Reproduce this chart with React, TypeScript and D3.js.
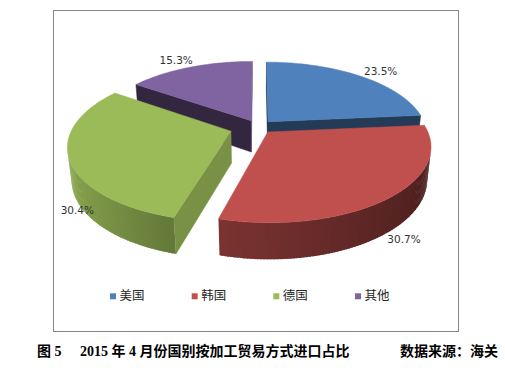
import React from 'react';
import * as d3 from 'd3';

// ---- data ----
const categories = ['美国', '韩国', '德国', '其他'];
const shares = [23.5, 30.7, 30.4, 15.3];
const valueLabels = ['23.5%', '30.7%', '30.4%', '15.3%'];
const captionLeft = '图 5';
const captionTitle = '2015 年 4 月份国别按加工贸易方式进口占比';
const captionSource = '数据来源：海关';

// ---- styles ----
const colors = ['#4F81BD', '#C0504D', '#9BBB59', '#8064A2'];
const explode = [0.095, 0.095, 0.18, 0.095];
const labelPlace: [number, number][] = [[1.37, -0.05], [1.22, -0.2], [1.17, -0.37], [1.37, -0.04]];

const W = 505, H = 368;
const S = 158, D = 4.9, sinP = 0.456, cosP = Math.sqrt(1 - sinP * sinP);
const CX = 258, CY = 126.7, DEPTH = 0.23;
const cam = [0, D * sinP, D * cosP];

function project(x: number, y: number, z: number): [number, number] {
  const t = D - (y * sinP + z * cosP);
  const k = (S * D) / t;
  return [CX + k * x, CY - k * (y * cosP - z * sinP)];
}

const outerShade = d3.scaleLinear().domain([-1, -0.26, 1]).range([0.9, 0.64, 0.39]).clamp(true);
const radialShade = d3.scaleLinear().domain([-0.57, 0.09, 0.97]).range([0.39, 0.46, 0.78]).clamp(true);

function shade(c: string, f: number) {
  const r = d3.rgb(c);
  return d3.rgb(r.r * f, r.g * f, r.b * f).formatHex();
}

const line = d3.line<[number, number]>().x(d => d[0]).y(d => d[1]);
const poly = (pts: [number, number][]) => line(pts) + 'Z';

type Face = { d: string; fill: string; stroke?: boolean };

export default function App() {
  const arcs = d3.pie<number>().sort(null).value(d => d)(shares);

  const slices = arcs.map((a, i) => {
    const b = (a.startAngle + a.endAngle) / 2;
    const ox = explode[i] * Math.sin(b);
    const oz = -explode[i] * Math.cos(b);
    const pt = (th: number, y: number) => project(ox + Math.sin(th), y, oz - Math.cos(th));
    const apexT = project(ox, 0, oz);
    const apexB = project(ox, -DEPTH, oz);
    const n = Math.max(2, Math.ceil((a.endAngle - a.startAngle) / (Math.PI / 180)));
    const step = (a.endAngle - a.startAngle) / n;
    const ths = d3.range(n + 1).map(k => a.startAngle + step * k);
    const faces: Face[] = [];
    // outer curved side (each strip overlaps the next a little to hide seams)
    for (let k = 0; k < n; k++) {
      const t0 = ths[k], t1 = ths[k + 1], tm = (t0 + t1) / 2;
      const nx = Math.sin(tm), nz = -Math.cos(tm);
      const px = ox + nx, pz = oz + nz;
      const dot = nx * (cam[0] - px) + nz * (cam[2] - pz);
      if (dot > 0) {
        const te = k < n - 1 ? t1 + step * 0.6 : t1;
        faces.push({
          d: poly([pt(t0, 0), pt(te, 0), pt(te, -DEPTH), pt(t0, -DEPTH)]),
          fill: shade(colors[i], outerShade(nx)),
        });
      }
    }
    // radial faces
    const a0 = a.startAngle, a1 = a.endAngle;
    const radials: [number, number, number][] = [
      [a0, -Math.cos(a0), -Math.sin(a0)],
      [a1, Math.cos(a1), Math.sin(a1)],
    ];
    radials.forEach(([th, nx, nz]) => {
      const dot = nx * (cam[0] - ox) + nz * (cam[2] - oz);
      if (dot > 0) {
        faces.push({
          d: poly([apexT, pt(th, 0), pt(th, -DEPTH), apexB]),
          fill: shade(colors[i], radialShade(nx)),
          stroke: true,
        });
      }
    });
    // top face
    faces.push({ d: poly([apexT, ...ths.map(th => pt(th, 0))]), fill: colors[i], stroke: true });

    const [lr, ly] = labelPlace[i];
    const lp = project(lr * Math.sin(b), ly, -lr * Math.cos(b));
    return { i, z: -Math.cos(b), faces, lp };
  });

  const order = [...slices].sort((p, q) => p.z - q.z);

  const legendX = d3.scalePoint<string>().domain(categories).range([110, 355]);

  return (
    <svg width={W} height={H} style={{ position: 'absolute', left: 0, top: 0, background: '#fff' }}>
      <rect x={0} y={0} width={W} height={H} fill="#fff" />
      <rect x={53.5} y={10.5} width={405} height={321} fill="#fff" stroke="#858585" strokeWidth={1} />
      {order.map(s => (
        <g key={s.i}>
          {s.faces.map((f, k) => (
            <path key={k} d={f.d} fill={f.fill} stroke={f.stroke ? f.fill : 'none'} strokeWidth={0.5} strokeLinejoin="round" />
          ))}
        </g>
      ))}
      {slices.map(s => (
        <text key={'l' + s.i} x={s.lp[0]} y={s.lp[1]} dy="0.35em" textAnchor="middle"
          fontFamily="'DejaVu Sans', sans-serif" fontSize={10.5} fill="#333">
          {valueLabels[s.i]}
        </text>
      ))}
      {categories.map((c, i) => {
        const x = legendX(c) as number;
        return (
          <g key={'g' + c}>
            <rect x={x} y={293.3} width={6} height={6} fill={colors[i]} />
            <text x={x + 9.5} y={300} fontFamily="'Noto Sans CJK SC', sans-serif" fontSize={12.5} fill="#262626">
              {c}
            </text>
          </g>
        );
      })}
      <g fontFamily="'Liberation Serif', 'Noto Sans CJK SC', serif" fontWeight="bold" fontSize={14} fill="#000">
        <text x={37} y={356}>{captionLeft}</text>
        <text x={80} y={356}>{captionTitle}</text>
        <text x={400} y={356}>{captionSource}</text>
      </g>
    </svg>
  );
}
